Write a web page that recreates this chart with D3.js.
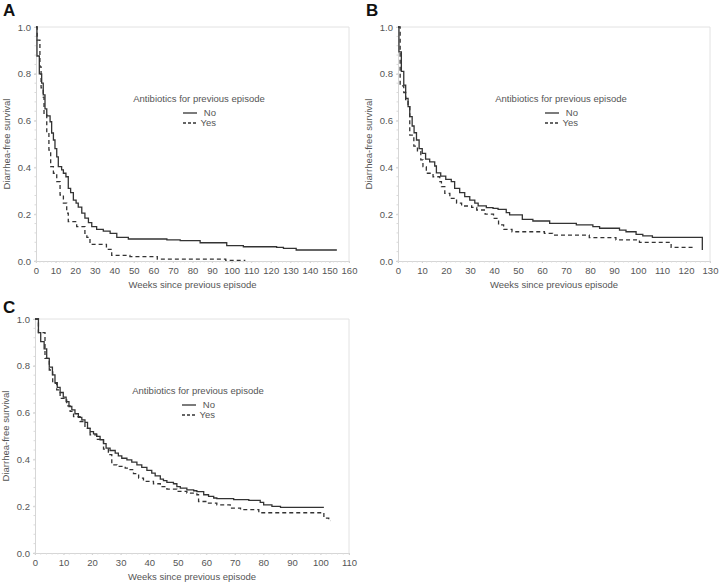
<!DOCTYPE html>
<html><head><meta charset="utf-8">
<script src="https://cdn.jsdelivr.net/npm/d3@7"></script>
<style>body{margin:0;background:#fff}svg{display:block}</style>
</head><body>
<svg id="c" width="720" height="584"></svg>
<script>
// ---------- data ----------
const panelLabels = ["A", "B", "C"];
const xMaxes = [160, 130, 110];
const yTickValues = [0, 0.2, 0.4, 0.6, 0.8, 1.0];
const xTitle = "Weeks since previous episode";
const yTitle = "Diarrhea-free survival";
const legendTitle = "Antibiotics for previous episode";
const seriesNames = ["No", "Yes"];

const aNoT = [0,0.5,1.7,2.9,3.7,4.6,5.5,7.2,8.0,8.9,9.7,10.6,11.4,13.1,14.0,15.3,16.5,17.7,19.1,20.5,21.6,23.4,25.0,26.8,28.5,31.0,34.4,37.9,41.3,47.2,66.9,73.7,83.9,97.5,106,123,126.5,133,153.8];
const aNoS = [1,0.876,0.80,0.76,0.71,0.65,0.62,0.595,0.547,0.517,0.48,0.445,0.403,0.389,0.375,0.36,0.31,0.292,0.26,0.247,0.23,0.205,0.183,0.164,0.147,0.135,0.128,0.118,0.101,0.094,0.09,0.087,0.078,0.066,0.061,0.058,0.054,0.047,0.047];
const aYesT = [0,0.6,2.0,2.6,3.7,4.1,5.5,6.6,7.5,8.9,10.6,12.3,14.0,15.7,16.5,20.8,25.0,26.0,27.6,36,38.7,48,62,97,107];
const aYesS = [1,0.944,0.83,0.74,0.70,0.624,0.547,0.474,0.403,0.375,0.339,0.282,0.247,0.205,0.168,0.147,0.118,0.101,0.071,0.05,0.024,0.019,0.008,0.003,0.003];

const bNoT = [0,0.4,1.4,2.4,3.2,4.2,4.9,5.9,6.7,7.7,8.8,10.1,11.5,13.2,15.3,16.0,17.8,19.9,22.2,23.6,25.7,27.8,29.9,32.0,33.4,36.8,39.6,41.7,45.1,46.5,51.8,56.2,63.2,74.3,81.2,84.0,92.3,95.0,99.2,102,106,126.8];
const bNoS = [1,0.894,0.81,0.752,0.695,0.66,0.617,0.577,0.548,0.517,0.48,0.46,0.435,0.424,0.406,0.377,0.363,0.349,0.339,0.31,0.292,0.275,0.26,0.247,0.236,0.228,0.225,0.221,0.207,0.197,0.178,0.171,0.161,0.154,0.147,0.14,0.132,0.125,0.114,0.107,0.101,0.047];
const bYesT = [0,0.9,2.4,3.2,4.2,4.9,6.6,8.1,9.5,10.4,11.8,14.6,17.4,18.1,19.5,21.6,24.4,26.5,30.7,32.8,36.3,39.8,41.9,44.0,47.5,61,64.4,79.7,90.8,100.6,113.8,124];
const bYesS = [1,0.748,0.72,0.69,0.66,0.538,0.491,0.467,0.432,0.403,0.375,0.36,0.339,0.318,0.289,0.268,0.247,0.235,0.229,0.218,0.2,0.182,0.154,0.135,0.125,0.118,0.111,0.1,0.09,0.08,0.058,0.058];

const cNoT = [0,1.2,2.0,3.2,4.1,5.0,6.1,7.0,7.8,8.8,9.9,10.9,11.9,12.9,14.0,15.2,16.4,17.5,18.4,19.3,20.5,21.6,22.8,24.0,24.9,26.3,28.1,29.2,30.4,32.2,33.9,35.7,37.4,39.2,40.9,42.1,43.9,45.0,46.2,48.5,49.7,50.9,53.2,55.6,56.7,59.1,60.8,62.6,63.7,69.6,74.9,78.9,80.1,83.0,86.0,101.2];
const cNoS = [1,0.942,0.903,0.872,0.832,0.794,0.761,0.728,0.708,0.686,0.666,0.647,0.626,0.612,0.595,0.58,0.569,0.558,0.533,0.519,0.509,0.498,0.484,0.467,0.448,0.438,0.427,0.415,0.405,0.398,0.388,0.377,0.366,0.353,0.341,0.33,0.316,0.309,0.302,0.296,0.284,0.277,0.27,0.266,0.262,0.249,0.242,0.235,0.232,0.228,0.225,0.216,0.206,0.199,0.195,0.195];
const cYesT = [0,1.2,3.5,5.0,6.2,7.6,8.8,11.1,12.3,13.5,15.8,17.5,19.3,21.6,24.0,25.7,26.9,28.7,31.6,33.3,34.5,36.3,38.0,41.5,43.9,46.2,49.7,53.2,56.7,57.3,60.2,63.7,68.4,72.0,78.4,101.2,102.9,103.5];
const cYesS = [1,0.942,0.832,0.782,0.725,0.697,0.661,0.629,0.605,0.583,0.562,0.533,0.505,0.486,0.444,0.42,0.377,0.37,0.363,0.356,0.339,0.32,0.306,0.296,0.284,0.273,0.263,0.256,0.249,0.22,0.213,0.206,0.192,0.185,0.172,0.149,0.138,0.138];

const panelSeries = [
  [[aNoT, aNoS], [aYesT, aYesS]],
  [[bNoT, bNoS], [bYesT, bYesS]],
  [[cNoT, cNoS], [cYesT, cYesS]]
];

// ---------- layout ----------
const boxes = [
  {l: 36, r: 349, t: 27, b: 261, lx: 3, ly: 16},
  {l: 398, r: 710, t: 27, b: 261, lx: 366, ly: 16},
  {l: 35, r: 349, t: 319, b: 553, lx: 3, ly: 313}
];
const font = "'Liberation Sans', Arial, sans-serif";
const txt = "#555";
const svg = d3.select("#c").style("font-family", font);

boxes.forEach((bx, i) => {
  const x = d3.scaleLinear().domain([0, xMaxes[i]]).range([bx.l, bx.r]);
  const y = d3.scaleLinear().domain([0, 1]).range([bx.b, bx.t]);
  const g = svg.append("g");

  // frame top & right
  g.append("line").attr("x1", bx.l).attr("x2", bx.r).attr("y1", bx.t).attr("y2", bx.t).attr("stroke", "#e2e2e2");
  g.append("line").attr("x1", bx.r).attr("x2", bx.r).attr("y1", bx.t).attr("y2", bx.b).attr("stroke", "#e2e2e2");

  const xa = g.append("g").attr("transform", `translate(0,${bx.b})`)
    .call(d3.axisBottom(x).tickValues(d3.range(0, xMaxes[i] + 0.1, 10)).tickSize(2).tickPadding(4).tickFormat(d3.format("d")));
  const ya = g.append("g").attr("transform", `translate(${bx.l},0)`)
    .call(d3.axisLeft(y).tickValues(yTickValues).tickSize(2).tickPadding(3).tickFormat(d3.format(".1f")));
  [xa, ya].forEach(a => {
    a.select(".domain").attr("stroke", "#d6d6d6");
    a.selectAll(".tick line").attr("stroke", "#d0d0d0");
    a.selectAll("text").attr("fill", txt).style("font-size", "9.5px").style("font-family", font);
  });
  // minor ticks
  g.append("g").selectAll("line").data(d3.range(0, xMaxes[i] + 0.1, 2)).join("line")
    .attr("x1", d => x(d)).attr("x2", d => x(d)).attr("y1", bx.b).attr("y2", bx.b + 1.5).attr("stroke", "#dadada");
  g.append("g").selectAll("line").data(d3.range(0, 1.001, 0.04)).join("line")
    .attr("x1", bx.l - 1.5).attr("x2", bx.l).attr("y1", d => y(d)).attr("y2", d => y(d)).attr("stroke", "#dadada");

  g.append("text").attr("x", (bx.l + bx.r) / 2).attr("y", bx.b + 27).attr("text-anchor", "middle")
    .attr("fill", txt).style("font-size", "9.5px").text(xTitle);
  g.append("text").attr("transform", `translate(${bx.l - 26},${(bx.t + bx.b) / 2}) rotate(-90)`)
    .attr("text-anchor", "middle").attr("fill", txt).style("font-size", "9.5px").text(yTitle);

  g.append("text").attr("x", bx.lx).attr("y", bx.ly).attr("fill", "#111")
    .style("font-size", "17px").style("font-weight", "bold").text(panelLabels[i]);

  const line = d3.line().x(d => x(d[0])).y(d => y(d[1])).curve(d3.curveStepAfter);
  panelSeries[i].forEach((s, k) => {
    const pts = s[0].map((t, j) => [t, s[1][j]]);
    g.append("path").attr("d", line(pts)).attr("fill", "none")
      .attr("stroke", "#333").attr("stroke-width", 1.3)
      .attr("stroke-dasharray", k === 1 ? "4,3" : null);
  });

  // legend
  const cx = bx.l + 163, ty = bx.t + 75;
  g.append("text").attr("x", cx).attr("y", ty).attr("text-anchor", "middle")
    .attr("fill", txt).style("font-size", "9.5px").text(legendTitle);
  seriesNames.forEach((n, k) => {
    const yy = ty + 14 + k * 10;
    g.append("line").attr("x1", bx.l + 147).attr("x2", bx.l + 161).attr("y1", yy - 3).attr("y2", yy - 3)
      .attr("stroke", "#333").attr("stroke-width", 1.3).attr("stroke-dasharray", k === 1 ? "3,2" : null);
    g.append("text").attr("x", bx.l + 180).attr("y", yy).attr("text-anchor", "end")
      .attr("fill", txt).style("font-size", "9.5px").text(n);
  });
});
</script>
</body></html>
